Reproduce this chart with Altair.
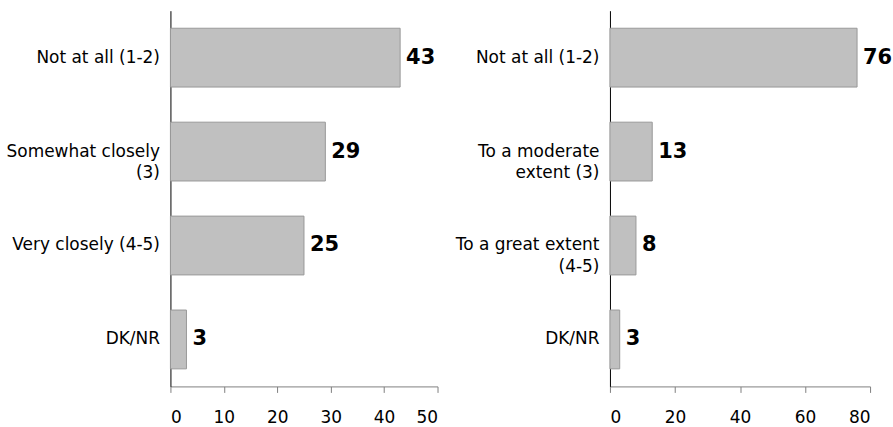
import altair as alt
import pandas as pd

left_cats = ["Not at all (1-2)", "Somewhat closely\n(3)", "Very closely (4-5)", "DK/NR"]
left_vals = [43, 29, 25, 3]
left_ticks = [0, 10, 20, 30, 40, 50]

right_cats = ["Not at all (1-2)", "To a moderate\nextent (3)", "To a great extent\n(4-5)", "DK/NR"]
right_vals = [76, 13, 8, 3]
right_ticks = [0, 20, 40, 60, 80]

FONT = "DejaVu Sans"


def panel(cats, vals, ticks, w):
    df = pd.DataFrame({"cat": cats, "val": vals})
    base = alt.Chart(df).encode(
        y=alt.Y(
            "cat:N",
            sort=cats,
            scale=alt.Scale(paddingInner=0.374, paddingOuter=0.187),
            axis=alt.Axis(
                title=None,
                ticks=False,
                domainColor="#000000",
                labelExpr="split(datum.label, '\\n')",
                labelFont=FONT,
                labelFontSize=17,
                labelLineHeight=22,
                labelPadding=11,
                labelColor="#000000",
                labelLimit=300,
            ),
        ),
        x=alt.X(
            "val:Q",
            scale=alt.Scale(domain=[ticks[0], ticks[-1]], nice=False),
            axis=alt.Axis(
                values=ticks,
                title=None,
                grid=False,
                domainColor="#808080",
                tickColor="#808080",
                tickSize=6,
                labelFont=FONT,
                labelFontSize=17,
                labelPadding=17,
                labelColor="#000000",
            ),
        ),
    )
    bars = base.mark_bar(fill="#c0c0c0", stroke="#999999", strokeWidth=1)
    text = base.mark_text(
        align="left", baseline="middle", dx=6, font=FONT, fontSize=21, fontWeight="bold", color="#000000"
    ).encode(text="val:Q")
    return (bars + text).properties(width=w, height=377)


chart = (
    alt.hconcat(
        panel(left_cats, left_vals, left_ticks, 268),
        panel(right_cats, right_vals, right_ticks, 261),
        spacing=173,
        bounds="flush",
    )
    .properties(padding={"left": 6, "top": 10, "right": 0, "bottom": 0}, background="white")
    .configure_view(stroke=None)
)

chart.save("out.html", embed_options={"renderer": "svg", "actions": False})
